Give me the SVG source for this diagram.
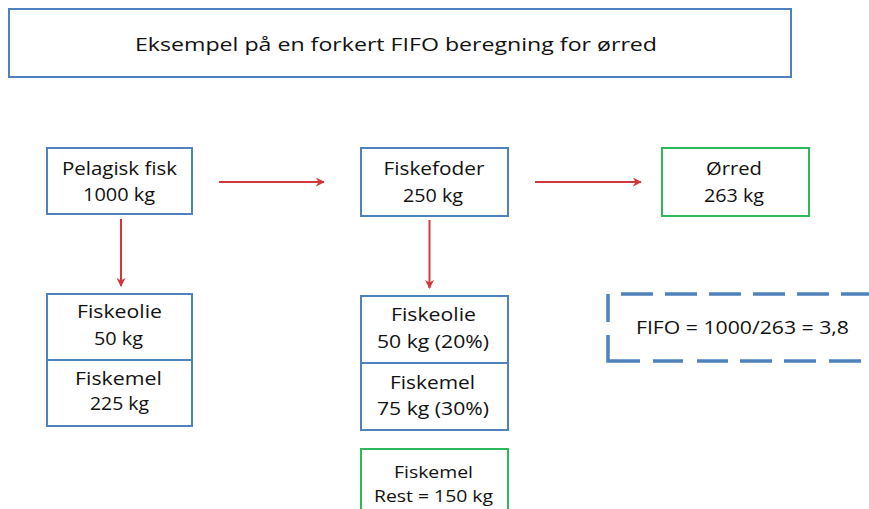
<svg xmlns="http://www.w3.org/2000/svg" width="869" height="509" viewBox="0 0 869 509">
<style>
  .box{fill:#ffffff;stroke:#4F81BD;stroke-width:2}
  .gbox{fill:#ffffff;stroke:#2EB85C;stroke-width:2}
  .t{font-family:"Open Sans","Liberation Sans",sans-serif;font-size:18px;fill:#111111;text-anchor:middle}
  .ts{font-family:"Open Sans","Liberation Sans",sans-serif;font-size:16px;fill:#111111;text-anchor:middle}
  .arr{stroke:#D0383C;stroke-width:2;fill:none;marker-end:url(#ah)}
  .dash{fill:none;stroke:#4F81BD;stroke-width:3.5}
</style>
<defs>
  <marker id="ah" viewBox="0 0 10 10" refX="9" refY="5" markerWidth="9" markerHeight="9" markerUnits="userSpaceOnUse" orient="auto">
    <path d="M0,0 L10,5 L0,10 L3,5 Z" fill="#D0383C"/>
  </marker>
</defs>
<rect width="869" height="509" fill="#ffffff"/>

<g id="title">
  <rect class="box" x="9" y="9" width="782" height="68"/>
  <text class="t" x="396" y="51" textLength="522" lengthAdjust="spacingAndGlyphs">Eksempel på en forkert FIFO beregning for ørred</text>
</g>

<g id="pelagisk">
  <rect class="box" x="47" y="148" width="145" height="66"/>
  <text class="t" x="119.5" y="175" textLength="115" lengthAdjust="spacingAndGlyphs">Pelagisk fisk</text>
  <text class="t" x="119" y="201" textLength="72" lengthAdjust="spacingAndGlyphs">1000 kg</text>
</g>

<g id="fiskeolie-left">
  <rect class="box" x="47" y="294" width="145" height="66"/>
  <text class="t" x="119.5" y="318" textLength="85" lengthAdjust="spacingAndGlyphs">Fiskeolie</text>
  <text class="t" x="118.5" y="345" textLength="49" lengthAdjust="spacingAndGlyphs">50 kg</text>
</g>

<g id="fiskemel-left">
  <rect class="box" x="47" y="360" width="145" height="66"/>
  <text class="t" x="118.5" y="385" textLength="87" lengthAdjust="spacingAndGlyphs">Fiskemel</text>
  <text class="t" x="119.5" y="410" textLength="59" lengthAdjust="spacingAndGlyphs">225 kg</text>
</g>

<g id="fiskefoder">
  <rect class="box" x="361" y="148" width="147" height="68"/>
  <text class="t" x="434" y="175" textLength="101" lengthAdjust="spacingAndGlyphs">Fiskefoder</text>
  <text class="t" x="433" y="202" textLength="60" lengthAdjust="spacingAndGlyphs">250 kg</text>
</g>

<g id="orred">
  <rect class="gbox" x="662" y="148" width="147" height="68"/>
  <text class="t" x="734" y="175" textLength="56" lengthAdjust="spacingAndGlyphs">Ørred</text>
  <text class="t" x="734" y="202" textLength="60" lengthAdjust="spacingAndGlyphs">263 kg</text>
</g>

<g id="fiskeolie-mid">
  <rect class="box" x="361" y="296" width="147" height="67"/>
  <text class="t" x="433.5" y="321" textLength="85" lengthAdjust="spacingAndGlyphs">Fiskeolie</text>
  <text class="t" x="433" y="348" textLength="112" lengthAdjust="spacingAndGlyphs">50 kg (20%)</text>
</g>

<g id="fiskemel-mid">
  <rect class="box" x="361" y="363" width="147" height="67"/>
  <text class="t" x="432.5" y="389" textLength="85" lengthAdjust="spacingAndGlyphs">Fiskemel</text>
  <text class="t" x="433" y="415" textLength="112" lengthAdjust="spacingAndGlyphs">75 kg (30%)</text>
</g>

<g id="fiskemel-rest">
  <rect class="gbox" x="361" y="449" width="147" height="80"/>
  <text class="ts" x="433.5" y="478" textLength="79" lengthAdjust="spacingAndGlyphs">Fiskemel</text>
  <text class="ts" x="433.5" y="502" textLength="119" lengthAdjust="spacingAndGlyphs">Rest = 150 kg</text>
</g>

<g id="fifo">
  <path class="dash" d="M608,322 V294 H900" stroke-dasharray="28 13 32 12 32 12 32 12 32 12 32 12 32 12 32 12"/>
  <path class="dash" d="M608,335 V361 H900" stroke-dasharray="58 13 30 14 31 12 32 12 32 13 32 12 32 12"/>
  <text class="t" x="742.5" y="334" textLength="213" lengthAdjust="spacingAndGlyphs">FIFO = 1000/263 = 3,8</text>
</g>

<g id="connectors">
  <line class="arr" x1="219" y1="182" x2="324" y2="182"/>
  <line class="arr" x1="535" y1="182" x2="641" y2="182"/>
  <line class="arr" x1="121" y1="219" x2="121" y2="286"/>
  <line class="arr" x1="429.5" y1="220" x2="429.5" y2="288"/>
</g>
</svg>
